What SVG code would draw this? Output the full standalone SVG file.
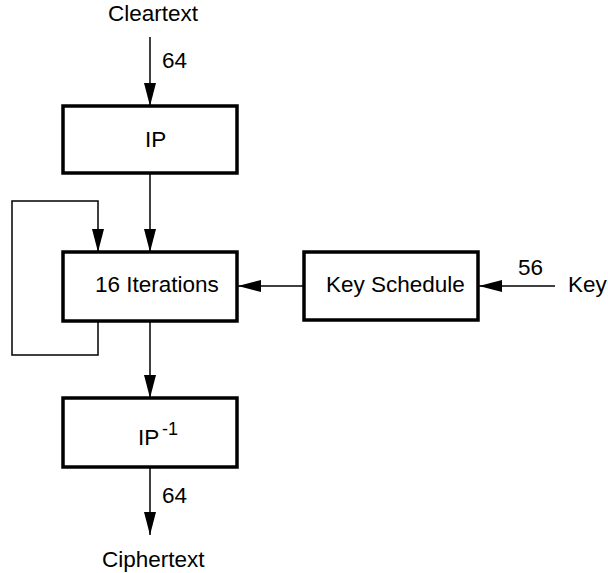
<svg xmlns="http://www.w3.org/2000/svg" width="608" height="573" viewBox="0 0 608 573">
<style>
.box{fill:#fff;stroke:#000;stroke-width:3.5}
.ln{fill:none;stroke:#000;stroke-width:1.5}
.t{font-family:"Liberation Sans",Arial,sans-serif;font-size:22.5px;fill:#000}
.sup{font-family:"Liberation Sans",Arial,sans-serif;font-size:18px;fill:#000}
</style>
<defs>
<marker id="ah" markerUnits="userSpaceOnUse" markerWidth="24" markerHeight="14" viewBox="0 0 24 14" refX="23" refY="7" orient="auto">
<path d="M0,1 L23,7 L0,13 Z" fill="#000"/>
</marker>
</defs>
<rect width="608" height="573" fill="#fff"/>
<g id="connectors">
<line class="ln" x1="150" y1="37" x2="150" y2="106" marker-end="url(#ah)"/>
<line class="ln" x1="150" y1="173" x2="150" y2="252" marker-end="url(#ah)"/>
<polyline class="ln" points="98,321 98,355 12,355 12,201 98,201 98,252" marker-end="url(#ah)"/>
<line class="ln" x1="304" y1="286" x2="238" y2="286" marker-end="url(#ah)"/>
<line class="ln" x1="555" y1="286" x2="479" y2="286" marker-end="url(#ah)"/>
<line class="ln" x1="150" y1="321" x2="150" y2="398" marker-end="url(#ah)"/>
<line class="ln" x1="150" y1="467" x2="150" y2="535" marker-end="url(#ah)"/>
<text class="t" x="162" y="68">64</text>
<text class="t" x="518" y="275">56</text>
<text class="t" x="162" y="503">64</text>
</g>
<g id="cleartext"><text class="t" x="108" y="21">Cleartext</text></g>
<g id="ip"><rect class="box" x="63" y="106" width="174" height="67"/><text class="t" x="145" y="147">IP</text></g>
<g id="iterations"><rect class="box" x="63" y="252" width="174" height="69"/><text class="t" x="95" y="292">16 Iterations</text></g>
<g id="keyschedule"><rect class="box" x="304" y="252" width="174" height="68"/><text class="t" x="326" y="292">Key Schedule</text></g>
<g id="key"><text class="t" x="568" y="292">Key</text></g>
<g id="ipinv"><rect class="box" x="63" y="398" width="174" height="69"/><text class="t" x="138" y="445">IP</text><text class="sup" x="162" y="435">-1</text></g>
<g id="ciphertext"><text class="t" x="102" y="567">Ciphertext</text></g>
</svg>
